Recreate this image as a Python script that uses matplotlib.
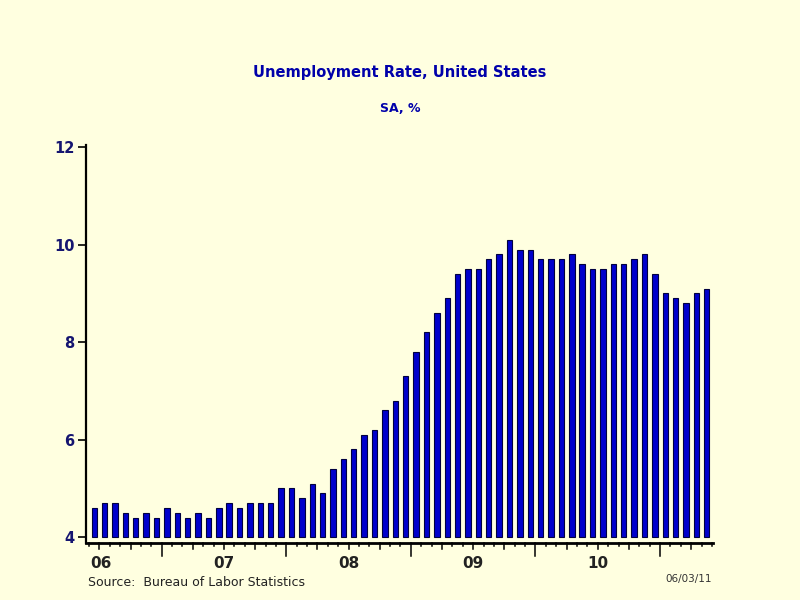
import numpy as np
import matplotlib
matplotlib.use('Agg')
import matplotlib.pyplot as plt
import matplotlib.transforms as mtrans

# monthly unemployment rate, Jun 2006 .. May 2011
rate = [4.6, 4.7, 4.7, 4.5, 4.4, 4.5, 4.4,
        4.6, 4.5, 4.4, 4.5, 4.4, 4.6, 4.7, 4.6, 4.7, 4.7, 4.7, 5.0,
        5.0, 4.8, 5.1, 4.9, 5.4, 5.6, 5.8, 6.1, 6.2, 6.6, 6.8, 7.3,
        7.8, 8.2, 8.6, 8.9, 9.4, 9.5, 9.5, 9.7, 9.8, 10.1, 9.9, 9.9,
        9.7, 9.7, 9.7, 9.8, 9.6, 9.5, 9.5, 9.6, 9.6, 9.7, 9.8, 9.4,
        9.0, 8.9, 8.8, 9.0, 9.1]
first_month = 6   # June
year_labels = ['06', '07', '08', '09', '10']
year_label_pos = [0.6, 12.5, 24.5, 36.5, 48.5]
y_ticks = [4, 6, 8, 10, 12]

BG = '#FFFFE0'
n = len(rate)
x = np.arange(n)

fig = plt.figure(figsize=(8, 6), dpi=100, facecolor=BG)
ax = fig.add_axes([0.107, 0.0945, 0.784, 0.6635])
ax.set_facecolor(BG)

base = 4
ax.bar(x, np.array(rate) - base, bottom=base, width=0.52,
       color='#0000CC', edgecolor='#000040', linewidth=0.8, zorder=2)

ax.set_xlim(-0.83, n - 1 + 0.58)
ax.set_ylim(3.876, 12.04)

for s in ['top', 'right']:
    ax.spines[s].set_visible(False)
ax.spines['left'].set_linewidth(1.6)
ax.spines['bottom'].set_linewidth(2)

# y axis
ax.set_yticks(y_ticks)
ax.set_yticklabels([str(v) for v in y_ticks], fontweight='bold',
                   color='#151570', fontsize=10.5)
ax.tick_params(axis='y', direction='out', length=6, width=1.2, pad=2)

# x axis: month boundaries, quarter and year ticks
ax.set_xticks([])
bounds = np.arange(-0.5, n, 1.0)
month_no = [(first_month - 1 + int(b + 0.5)) % 12 for b in bounds]  # month starting at boundary (0=Jan)
major = [b for b, m in zip(bounds, month_no) if m == 0]
quarter = [b for b, m in zip(bounds, month_no) if m in (3, 6, 9)]
minor = [b for b, m in zip(bounds, month_no) if m not in (0, 3, 6, 9)]

trans = mtrans.blended_transform_factory(ax.transData, ax.transAxes)
ax_h = ax.get_position().height * 600
for pos, ln in [(minor, 3), (quarter, 6), (major, 13)]:
    for b in pos:
        ax.plot([b, b], [0, -ln / ax_h], color='black', lw=1.1,
                transform=trans, clip_on=False, zorder=3)

for lab, p in zip(year_labels, year_label_pos):
    ax.text(p, -20 / ax_h, lab, transform=trans, ha='center', va='center',
            fontsize=11, fontweight='bold', color='#222222')

fig.text(0.5, 1 - 72 / 600, 'Unemployment Rate, United States', ha='center',
         va='center', fontsize=10.5, fontweight='bold', color='#0000AA')
fig.text(0.5, 1 - 109 / 600, 'SA, %', ha='center', va='center',
         fontsize=9, fontweight='bold', color='#0000AA')
fig.text(88 / 800, 1 - 582 / 600, 'Source:  Bureau of Labor Statistics',
         ha='left', va='center', fontsize=9, color='#222222')
fig.text(712 / 800, 1 - 579 / 600, '06/03/11', ha='right', va='center',
         fontsize=7.5, color='#333333')

fig.savefig('out.png', dpi=100, facecolor=BG)
